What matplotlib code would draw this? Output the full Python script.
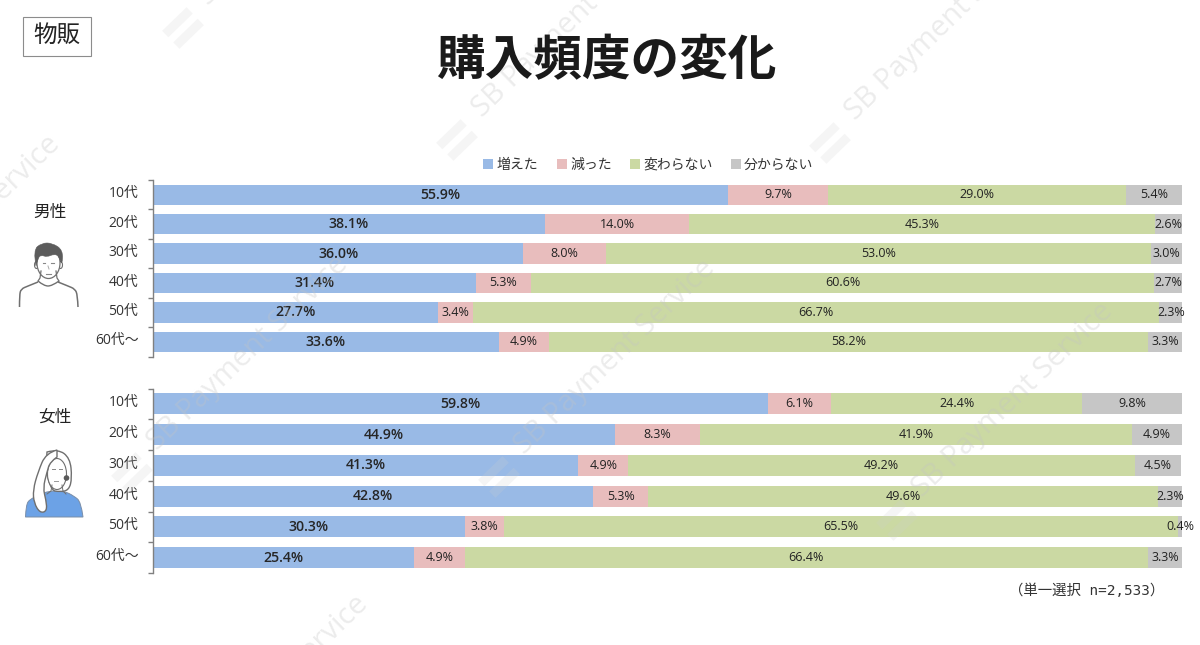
import matplotlib
matplotlib.use("Agg")
import matplotlib.pyplot as plt
from matplotlib.patches import Rectangle, Circle, Ellipse, PathPatch
from matplotlib.path import Path
from matplotlib.transforms import Affine2D
import numpy as np

plt.rcParams['font.family'] = ['Noto Sans CJK JP', 'DejaVu Sans']
LATIN = ['Open Sans', 'Noto Sans CJK JP']

ages = ["10代", "20代", "30代", "40代", "50代", "60代～"]
series_names = ["増えた", "減った", "変わらない", "分からない"]
colors = ["#99BAE6", "#E8BDBD", "#CBD9A3", "#C6C6C6"]

male_up = [55.9, 38.1, 36.0, 31.4, 27.7, 33.6]
male_down = [9.7, 14.0, 8.0, 5.3, 3.4, 4.9]
male_same = [29.0, 45.3, 53.0, 60.6, 66.7, 58.2]
male_unknown = [5.4, 2.6, 3.0, 2.7, 2.3, 3.3]

female_up = [59.8, 44.9, 41.3, 42.8, 30.3, 25.4]
female_down = [6.1, 8.3, 4.9, 5.3, 3.8, 4.9]
female_same = [24.4, 41.9, 49.2, 49.6, 65.5, 66.4]
female_unknown = [9.8, 4.9, 4.5, 2.3, 0.4, 3.3]

W, H = 1200, 645

# logo centre of each watermark, pixels from top left
watermarks = [(183, 28), (457, 140), (830, 143), (132, 473), (499, 477),
              (897, 520), (-156, 353), (152, 813)]


def axes_px(fig, left, top, right, bottom):
    return fig.add_axes([left / W, 1 - bottom / H, (right - left) / W, (bottom - top) / H])


def stacked(ax, rows, height):
    y = np.arange(len(ages))
    left = np.zeros(len(ages))
    for i, vals in enumerate(rows):
        vals = np.array(vals)
        ax.barh(y, vals, left=left, height=height, color=colors[i], linewidth=0, label=series_names[i])
        for j, v in enumerate(vals):
            if i == 0:
                ax.text(left[j] + v / 2, j, "%.1f%%" % v, ha='center', va='center', family=LATIN,
                        fontsize=10.2, fontweight='semibold', color='#262626')
            else:
                ax.text(left[j] + v / 2, j, "%.1f%%" % v, ha='center', va='center', family=LATIN,
                        fontsize=9.0, color='#222222', clip_on=False)
        left = left + vals
    ax.set_xlim(0, 100)
    ax.set_ylim(len(ages) - 0.5, -0.5)
    ax.patch.set_visible(False)
    for s in ['top', 'right', 'bottom']:
        ax.spines[s].set_visible(False)
    ax.spines['left'].set_color('#808080')
    ax.spines['left'].set_linewidth(1.0)
    ax.set_xticks([])
    ax.set_yticks(np.arange(len(ages) + 1) - 0.5)
    ax.set_yticklabels([])
    ax.tick_params(axis='y', which='major', length=3.6, width=1.0, color='#808080')
    # labels sit a little above the bar centres in the original
    ax.set_yticks(y - 0.1, minor=True)
    ax.set_yticklabels(ages, minor=True, fontsize=10, color='#333333', family=LATIN)
    ax.tick_params(axis='y', which='minor', length=0, pad=10.5)


def smooth(points, closed=False):
    # quadratic curve through the midpoints of a rough outline
    pts = [np.array(p, dtype=float) for p in points]
    verts = [tuple(pts[0])]
    codes = [Path.MOVETO]
    for i in range(1, len(pts) - 1):
        mid = (pts[i] + pts[i + 1]) / 2 if i < len(pts) - 2 else pts[i + 1]
        verts += [tuple(pts[i]), tuple(mid)]
        codes += [Path.CURVE3, Path.CURVE3]
    if closed:
        verts.append(tuple(pts[0]))
        codes.append(Path.CLOSEPOLY)
    return Path(verts, codes)


def draw_man(ov):
    ink = '#707070'
    ov.add_patch(PathPatch(smooth([(19.5, 307), (19.5, 295), (21, 289), (28, 286), (38, 282)]), fill=False, ec=ink, lw=1.1))
    ov.add_patch(PathPatch(smooth([(78, 307), (77.5, 295), (75, 289), (68, 286), (58, 282)]), fill=False, ec=ink, lw=1.1))
    ov.add_patch(PathPatch(smooth([(38, 281), (44, 286), (52, 286), (59, 281)]), fill=False, ec=ink, lw=1.0))
    ov.plot([41, 40, 38], [271, 278, 281], color=ink, lw=0.9)
    ov.plot([56, 57, 59], [271, 278, 281], color=ink, lw=0.9)
    ov.add_patch(Ellipse((36.5, 265), 4, 7, fc='white', ec=ink, lw=0.8))
    ov.add_patch(Ellipse((60.5, 265), 4, 7, fc='white', ec=ink, lw=0.8))
    ov.add_patch(Ellipse((48.5, 263), 23, 31, fc='white', ec=ink, lw=0.9))
    hair = smooth([(36, 266), (33, 250), (42, 243), (52, 243), (63, 250), (62, 266), (59, 256),
                   (54, 254), (47, 257), (41, 255), (38, 258), (36, 266)], closed=True)
    ov.add_patch(PathPatch(hair, fc='#5c5c5c', ec='#5c5c5c', lw=0.4))
    ov.plot([42.5, 45], [262.5, 262.5], color='#888888', lw=0.8)
    ov.plot([51, 53.5], [262.5, 262.5], color='#888888', lw=0.8)
    ov.plot([48, 49], [266, 269], color='#aaaaaa', lw=0.7)
    ov.plot([46, 51], [274, 274], color='#888888', lw=0.8)


def draw_woman(ov):
    ink = '#6f6f6f'
    body = smooth([(25.5, 517), (26, 505), (30, 499), (40, 495), (48, 491), (64, 491), (74, 496),
                   (81, 502), (83, 517)], closed=True)
    ov.add_patch(PathPatch(body, fc='#6CA2E6', ec='#7a8ea8', lw=0.7))
    back = smooth([(47, 452), (58, 449), (70, 458), (72, 478), (69, 490), (60, 492), (50, 490), (46, 470)], closed=True)
    ov.add_patch(PathPatch(back, fc='white', ec=ink, lw=1.0))
    ov.add_patch(Ellipse((57, 474), 19, 31, fc='white', ec=ink, lw=0.8))
    ov.plot([52, 51, 47], [485, 491, 494], color=ink, lw=0.7)
    ov.plot([62, 63, 66], [485, 491, 494], color=ink, lw=0.7)
    strand = smooth([(57, 450), (46, 453), (38, 472), (33, 490), (34, 503), (40, 513), (47, 511), (46, 500),
                     (43, 488), (47, 472), (50, 462), (57, 457)], closed=True)
    ov.add_patch(PathPatch(strand, fc='white', ec=ink, lw=1.0))
    ov.add_patch(Circle((66.5, 478), 2.8, fc='#5a5a5a', ec='none'))
    ov.plot([51.5, 54.5], [469, 469], color='#888888', lw=0.7)
    ov.plot([59, 62], [469, 469], color='#888888', lw=0.7)
    ov.plot([54, 58], [481, 481], color='#999999', lw=0.7)


def draw_watermarks(ov):
    for x, y in watermarks:
        ov.text(x + 20, y - 27, "SB Payment Service", rotation=44, rotation_mode='anchor',
                fontsize=21, color='#c4c4c4', alpha=0.32, ha='left', va='center',
                family=['Open Sans', 'DejaVu Sans'], zorder=1)
        tr = Affine2D().rotate_deg_around(x, y, -44) + ov.transData
        for dy in (-8, 8):
            ov.add_patch(Rectangle((x - 17, y + dy - 4.5), 34, 9, fc='#d0d0d0', ec='none', alpha=0.2,
                                   transform=tr, zorder=1))


fig = plt.figure(figsize=(12, 6.45), dpi=100, facecolor='white')

ax_m = axes_px(fig, 153, 180, 1182, 356.5)
stacked(ax_m, [male_up, male_down, male_same, male_unknown], 0.69)
ax_f = axes_px(fig, 153, 388.5, 1182, 573)
stacked(ax_f, [female_up, female_down, female_same, female_unknown], 0.69)

handles, labels = ax_m.get_legend_handles_labels()
fig.legend(handles, labels, ncol=4, loc='center', bbox_to_anchor=(648.5 / W, 1 - 165 / H), frameon=False,
           fontsize=10, handlelength=0.72, handleheight=0.72, handletextpad=0.25, columnspacing=1.3,
           labelcolor='#333333')

# overlay in pixel coordinates for the title, labels and decoration
ov = fig.add_axes([0, 0, 1, 1], zorder=5)
ov.set_xlim(0, W)
ov.set_ylim(H, 0)
ov.axis('off')

ov.add_patch(Rectangle((23, 17), 68, 39, fc='white', ec='#8c8c8c', lw=0.8, zorder=3))
ov.text(57, 35, "物販", fontsize=17, ha='center', va='center', color='#222222', zorder=4)
ov.text(606, 61, "購入頻度の変化", fontsize=35, fontweight='bold', ha='center', va='center', color='#1a1a1a', zorder=4)
ov.text(49.5, 212, "男性", fontsize=12, ha='center', va='center', color='#222222', zorder=4)
ov.text(54.5, 417, "女性", fontsize=12, ha='center', va='center', color='#222222', zorder=4)
ov.text(1087, 591, "（単一選択 n=2,533）", fontsize=10.4, ha='center', va='center', color='#333333',
        family=['DejaVu Sans Mono', 'Noto Sans CJK JP'], zorder=4)

draw_man(ov)
draw_woman(ov)
draw_watermarks(ov)

fig.savefig("out.png", dpi=100)
